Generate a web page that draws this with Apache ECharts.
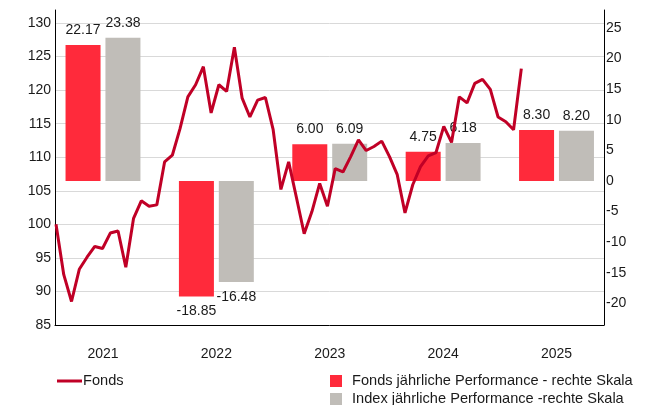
<!DOCTYPE html>
<html>
<head>
<meta charset="utf-8">
<script src="https://cdn.jsdelivr.net/npm/echarts@6/dist/echarts.min.js"></script>
<style>
html,body{margin:0;padding:0;background:#fff;}
#chart{width:648px;height:405px;}
</style>
</head>
<body>
<div id="chart"></div>
<script>
// Categories (years) for the annual performance bars
var years = ['2021', '2022', '2023', '2024', '2025'];
// Annual performance, right scale (%)
var fondsPerf = [22.17, -18.85, 6.00, 4.75, 8.30];
var indexPerf = [23.38, -16.48, 6.09, 6.18, 8.20];
// Fonds value line, left scale (monthly points)
var fondsLine = [
  100.0, 92.5, 88.5, 93.3, 95.1, 96.7, 96.4, 98.7, 99.0, 93.6,
  100.9, 103.5, 102.7, 102.9, 109.3, 110.3, 114.3, 119.0, 120.8, 123.5,
  116.6, 120.8, 119.8, 126.4, 118.8, 116.0, 118.5, 118.9, 114.1, 105.2,
  109.3, 104.0, 98.6, 101.9, 106.1, 102.7, 108.3, 107.8, 110.1, 112.6,
  111.0, 111.6, 112.4, 110.1, 107.4, 101.7, 105.9, 108.6, 110.2, 110.7,
  114.6, 112.2, 119.0, 118.1, 121.0, 121.6, 120.1, 116.0, 115.3, 114.1,
  123.2
];
// Tick labels
var leftTicks = [85, 90, 95, 100, 105, 110, 115, 120, 125, 130];
var rightTicks = [-20, -15, -10, -5, 0, 5, 10, 15, 20, 25];

var FONT = 'Liberation Sans, Arial, sans-serif';
var lineData = fondsLine.map(function (v, i) { return [i, v]; });
function withNegLabels(arr) {
  return arr.map(function (v) { return v < 0 ? {value: v, label: {position: 'bottom'}} : v; });
}
var legendText = {fontSize: 14.6, color: '#1a1a1a', fontFamily: FONT};

var chart = echarts.init(document.getElementById('chart'), null, {renderer: 'canvas'});
chart.setOption({
  animation: false,
  backgroundColor: '#ffffff',
  textStyle: {fontFamily: FONT},
  grid: [
    {left: 55, right: 44, top: 10, bottom: 80},
    {left: 46.3, right: 34.8, top: 10, bottom: 80}
  ],
  legend: [
    {
      left: 57, top: 373.5, padding: 0, itemWidth: 25, itemHeight: 3,
      data: [{name: 'Fonds', icon: 'rect'}],
      textStyle: Object.assign({padding: [0, 0, 0, -4]}, legendText)
    },
    {
      left: 330, top: 373.5, padding: 0, itemWidth: 12, itemHeight: 12,
      data: [{name: 'Fonds jährliche Performance - rechte Skala', icon: 'rect'}],
      textStyle: Object.assign({padding: [0, 0, 0, 5]}, legendText)
    },
    {
      left: 330, top: 391.5, padding: 0, itemWidth: 12, itemHeight: 12,
      data: [{name: 'Index jährliche Performance -rechte Skala', icon: 'rect'}],
      textStyle: Object.assign({padding: [0, 0, 0, 5]}, legendText)
    }
  ],
  xAxis: [
    {
      gridIndex: 0, type: 'value', min: -0.13, max: 70.66,
      axisLine: {show: true, onZero: false, lineStyle: {color: '#000', width: 1}},
      axisTick: {show: false}, axisLabel: {show: false}, splitLine: {show: false}
    },
    {
      gridIndex: 1, type: 'category', data: years,
      axisLine: {show: false, onZero: false}, axisTick: {show: false}, splitLine: {show: false},
      axisLabel: {fontSize: 14, color: '#1a1a1a', margin: 22, fontFamily: FONT}
    }
  ],
  yAxis: [
    {
      gridIndex: 0, type: 'value', position: 'left', min: 85, max: 131.94,
      axisLine: {show: true, onZero: false, lineStyle: {color: '#000', width: 1}},
      axisTick: {show: false, customValues: leftTicks},
      axisLabel: {fontSize: 14, color: '#1a1a1a', margin: 4, customValues: leftTicks, fontFamily: FONT},
      splitLine: {show: true, lineStyle: {color: '#d9d9d9', width: 1}}
    },
    {
      gridIndex: 0, type: 'value', position: 'right', min: -23.5, max: 27.9,
      axisLine: {show: true, onZero: false, lineStyle: {color: '#000', width: 1}},
      axisTick: {show: false, customValues: rightTicks},
      axisLabel: {fontSize: 14, color: '#1a1a1a', margin: 2, customValues: rightTicks, fontFamily: FONT},
      splitLine: {show: false}
    },
    {
      gridIndex: 1, type: 'value', min: -23.5, max: 27.9, show: false,
      splitLine: {show: false}
    }
  ],
  series: [
    {
      name: 'Fonds jährliche Performance - rechte Skala', type: 'bar',
      xAxisIndex: 1, yAxisIndex: 2, data: withNegLabels(fondsPerf),
      barWidth: 35, barGap: '14%', z: 2,
      itemStyle: {color: '#ff2a3b'},
      label: {
        show: true, position: 'top', distance: 8, fontSize: 14, color: '#1a1a1a', fontFamily: FONT,
        formatter: function (p) { return p.value.toFixed(2); }
      }
    },
    {
      name: 'Index jährliche Performance -rechte Skala', type: 'bar',
      xAxisIndex: 1, yAxisIndex: 2, data: withNegLabels(indexPerf),
      barWidth: 35, barGap: '14%', z: 2,
      itemStyle: {color: '#c0bdb8'},
      label: {
        show: true, position: 'top', distance: 8, fontSize: 14, color: '#1a1a1a', fontFamily: FONT,
        formatter: function (p) { return p.value.toFixed(2); }
      }
    },
    {
      name: 'Fonds', type: 'line', xAxisIndex: 0, yAxisIndex: 0, data: lineData,
      showSymbol: false, symbol: 'none', z: 5,
      lineStyle: {color: '#c00026', width: 3},
      itemStyle: {color: '#c00026'}
    }
  ]
});
</script>
</body>
</html>
